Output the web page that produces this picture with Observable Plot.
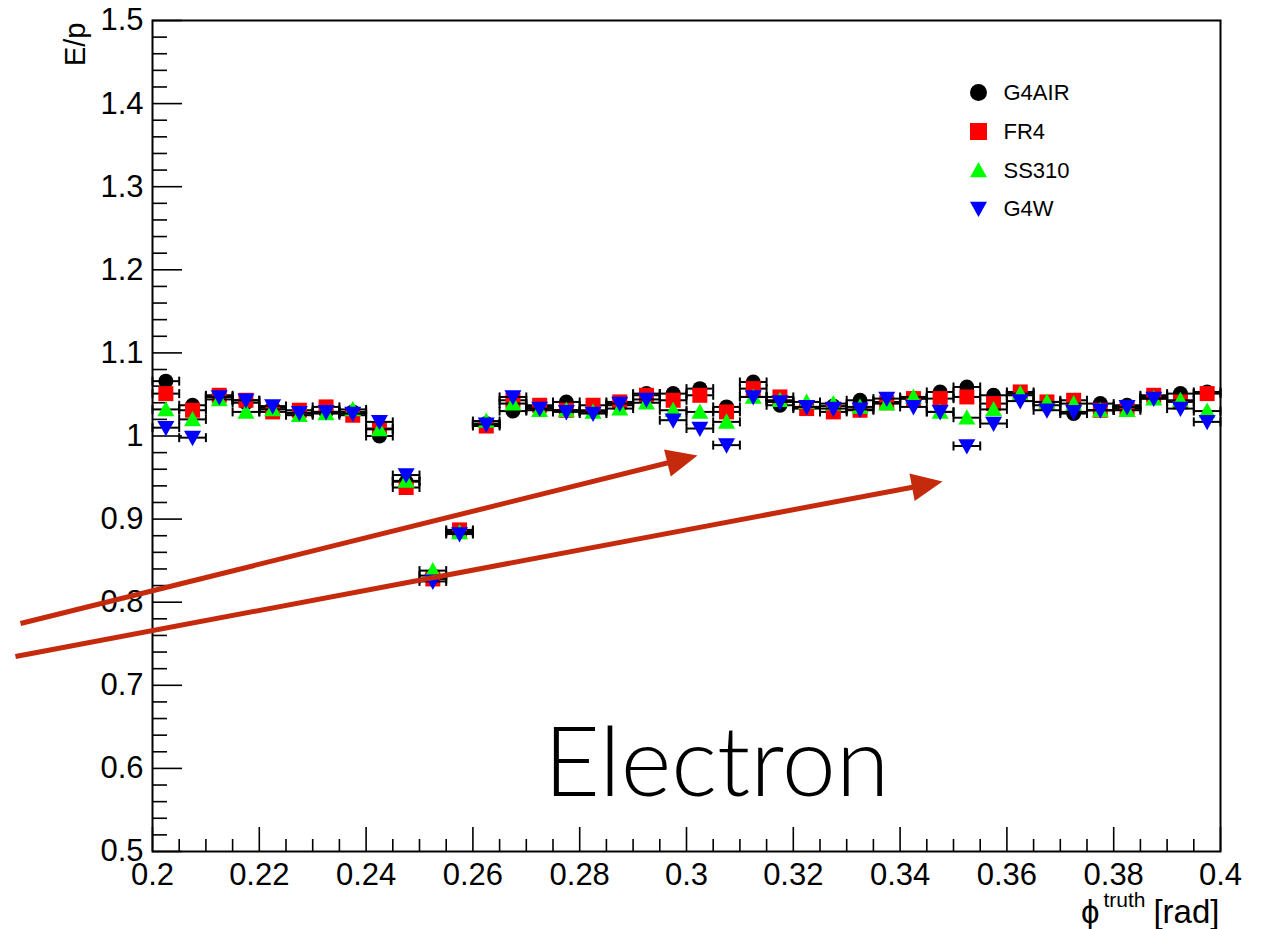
<!DOCTYPE html>
<html>
<head>
<meta charset="utf-8">
<script src="https://cdn.jsdelivr.net/npm/d3@7"></script>
<script src="https://cdn.jsdelivr.net/npm/@observablehq/plot@0.6"></script>
<style>
  html, body { margin: 0; padding: 0; background: #fff; }
</style>
</head>
<body>
<div id="chart"></div>
<script>
// ---- data ----
const phiBins = [0.2025,0.2075,0.2125,0.2175,0.2225,0.2275,0.2325,0.2375,0.2425,0.2475,
                 0.2525,0.2575,0.2625,0.2675,0.2725,0.2775,0.2825,0.2875,0.2925,0.2975,
                 0.3025,0.3075,0.3125,0.3175,0.3225,0.3275,0.3325,0.3375,0.3425,0.3475,
                 0.3525,0.3575,0.3625,0.3675,0.3725,0.3775,0.3825,0.3875,0.3925,0.3975];
const binHalfWidth = 0.0025;

const G4AIR = [1.066,1.037,1.047,1.040,1.034,1.027,1.029,1.029,1.000,0.945,
               0.832,0.885,1.015,1.030,1.035,1.041,1.031,1.037,1.051,1.051,
               1.057,1.035,1.065,1.037,1.035,1.036,1.043,1.041,1.045,1.053,
               1.059,1.049,1.049,1.037,1.027,1.039,1.037,1.047,1.051,1.053];
const FR4   = [1.051,1.031,1.049,1.043,1.029,1.031,1.035,1.025,1.009,0.938,
               0.828,0.887,1.012,1.043,1.037,1.031,1.037,1.041,1.049,1.043,
               1.049,1.029,1.057,1.047,1.033,1.029,1.031,1.040,1.045,1.045,
               1.047,1.039,1.053,1.041,1.043,1.031,1.033,1.049,1.041,1.051];
const SS310 = [1.032,1.020,1.044,1.029,1.032,1.025,1.027,1.032,1.008,0.946,
               0.838,0.884,1.018,1.039,1.031,1.031,1.029,1.033,1.040,1.031,
               1.029,1.017,1.047,1.043,1.041,1.039,1.035,1.039,1.047,1.029,
               1.022,1.032,1.051,1.041,1.039,1.031,1.031,1.045,1.043,1.030];
const G4W   = [1.010,0.998,1.047,1.043,1.036,1.028,1.029,1.027,1.017,0.953,
               0.825,0.882,1.014,1.047,1.033,1.029,1.027,1.039,1.044,1.019,
               1.009,0.989,1.047,1.041,1.035,1.033,1.032,1.045,1.035,1.029,
               0.988,1.015,1.042,1.031,1.029,1.031,1.035,1.045,1.033,1.017];

const seriesNames  = ["G4AIR", "FR4", "SS310", "G4W"];
const seriesValues = [G4AIR, FR4, SS310, G4W];
const seriesColors = ["#000000", "#ff0000", "#00ff00", "#0000ff"];
const seriesShapes = ["circle", "square", "triangleUp", "triangleDown"];

const xTicks = [0.2,0.22,0.24,0.26,0.28,0.3,0.32,0.34,0.36,0.38,0.4];
const yTicks = [0.5,0.6,0.7,0.8,0.9,1,1.1,1.2,1.3,1.4,1.5];
const xDomain = [0.2, 0.4];
const yDomain = [0.5, 1.5];

// annotation arrows (in data units: phi, E/p)
const arrowStartX = [0.17528, 0.17434];
const arrowStartY = [0.7744, 0.7347];
const arrowEndX   = [0.30206, 0.34794];
const arrowEndY   = [0.9765, 0.9452];

const xLabelMain = "ϕ";
const xLabelSup = "truth";
const xLabelUnit = "[rad]";
const yLabel = "E/p";
const bigLabel = "Electron";

// ---- layout ----
const W = 1272, H = 929;
const mL = 152, mR = 52, mT = 20, mB = 78;
const kx = (W - mL - mR) / (xDomain[1] - xDomain[0]);
const ky = (H - mT - mB) / (yDomain[1] - yDomain[0]);

function makeSymbol(shape, s) {
  return {
    draw(ctx) {
      const h = s / 2;
      if (shape === "circle") {
        ctx.moveTo(h, 0);
        ctx.arc(0, 0, h, 0, 2 * Math.PI);
      } else if (shape === "square") {
        ctx.moveTo(-h, -h); ctx.lineTo(h, -h); ctx.lineTo(h, h); ctx.lineTo(-h, h); ctx.closePath();
      } else if (shape === "triangleUp") {
        ctx.moveTo(0, -h); ctx.lineTo(h, h * 0.8); ctx.lineTo(-h, h * 0.8); ctx.closePath();
      } else {
        ctx.moveTo(0, h); ctx.lineTo(h, -h * 0.8); ctx.lineTo(-h, -h * 0.8); ctx.closePath();
      }
    }
  };
}
const markerSize = {circle: 15, square: 15, triangleUp: 17, triangleDown: 17};
const capSymbol = {draw(ctx) { ctx.moveTo(0, -4.5); ctx.lineTo(0, 4.5); }};
const headSymbol = {draw(ctx) { ctx.moveTo(0, 0); ctx.lineTo(-31, -14); ctx.lineTo(-31, 14); ctx.closePath(); }};

const fmt = d => String(+d.toFixed(3));

// minor ticks
const xMinor = d3.range(0, 41).map(i => 0.2 + i * 0.005).filter(v => !xTicks.some(t => Math.abs(t - v) < 1e-9));
const yMinor = d3.range(0, 51).map(i => 0.5 + i * 0.02).filter(v => !yTicks.some(t => Math.abs(t - v) < 1e-9));

const marks = [];

// axes tick labels
marks.push(Plot.axisX({ticks: xTicks, tickSize: 0, tickPadding: 11, tickFormat: fmt, label: null, fontSize: 31}));
marks.push(Plot.axisY({ticks: yTicks, tickSize: 0, tickPadding: 9, tickFormat: fmt, label: null, fontSize: 31}));

// tick marks (ROOT style: inside the frame)
marks.push(Plot.ruleX(xTicks, {y1: yDomain[0], y2: yDomain[0] + 24 / ky, stroke: "black", strokeWidth: 1.6}));
marks.push(Plot.ruleX(xMinor, {y1: yDomain[0], y2: yDomain[0] + 12 / ky, stroke: "black", strokeWidth: 1.6}));
marks.push(Plot.ruleY(yTicks, {x1: xDomain[0], x2: xDomain[0] + 30 / kx, stroke: "black", strokeWidth: 1.6}));
marks.push(Plot.ruleY(yMinor, {x1: xDomain[0], x2: xDomain[0] + 15 / kx, stroke: "black", strokeWidth: 1.6}));

// series
seriesNames.forEach((name, si) => {
  const rows = phiBins.map((x, i) => ({x, v: seriesValues[si][i]}));
  marks.push(Plot.ruleY(rows, {x1: d => d.x - binHalfWidth, x2: d => d.x + binHalfWidth, y: "v", stroke: "black", strokeWidth: 2}));
  marks.push(Plot.dot(rows, {x: d => d.x - binHalfWidth, y: "v", symbol: capSymbol, stroke: "black", fill: "none", strokeWidth: 2}));
  marks.push(Plot.dot(rows, {x: d => d.x + binHalfWidth, y: "v", symbol: capSymbol, stroke: "black", fill: "none", strokeWidth: 2}));
  const shape = seriesShapes[si];
  marks.push(Plot.dot(rows, {x: "x", y: "v", symbol: makeSymbol(shape, markerSize[shape]), fill: seriesColors[si], stroke: "none"}));
});

// frame
marks.push(Plot.frame({stroke: "black", strokeWidth: 2}));

// legend
const legendRowsDy = [72, 111, 150, 188];
seriesNames.forEach((name, si) => {
  const shape = seriesShapes[si];
  marks.push(Plot.dot([name], {frameAnchor: "top-right", dx: -242, dy: legendRowsDy[si], symbol: makeSymbol(shape, 17), fill: seriesColors[si], stroke: "none"}));
  marks.push(Plot.text([name], {text: d => d, frameAnchor: "top-right", dx: -217, dy: legendRowsDy[si], textAnchor: "start", lineAnchor: "middle", fontSize: 22, fill: "black"}));
});

// axis titles
marks.push(Plot.text([yLabel], {text: d => d, frameAnchor: "top-left", dx: -77, dy: 2, rotate: -90, textAnchor: "end", lineAnchor: "middle", fontSize: 29}));
marks.push(Plot.text([xLabelUnit], {text: d => d, frameAnchor: "bottom-right", dx: -1, dy: 61, textAnchor: "end", lineAnchor: "middle", fontSize: 33}));
marks.push(Plot.text([xLabelSup], {text: d => d, frameAnchor: "bottom-right", dx: -75, dy: 49, textAnchor: "end", lineAnchor: "middle", fontSize: 21}));
marks.push(Plot.text([xLabelMain], {text: d => d, frameAnchor: "bottom-right", dx: -121, dy: 61, textAnchor: "end", lineAnchor: "middle", fontSize: 33}));

// big label
marks.push(Plot.text([bigLabel], {text: d => d, frameAnchor: "bottom", dx: 30, dy: -87, textAnchor: "middle", lineAnchor: "middle", fontSize: 97, fontWeight: 300, fontFamily: "Lato, 'Liberation Sans', sans-serif", fill: "black"}));

// arrows
const arrows = arrowStartX.map((x1, i) => {
  const x2 = arrowEndX[i], y1 = arrowStartY[i], y2 = arrowEndY[i];
  const dxp = (x2 - x1) * kx, dyp = -(y2 - y1) * ky;
  const len = Math.hypot(dxp, dyp);
  const t = 1 - 25 / len;
  return {x1, y1, x2, y2, sx: x1 + (x2 - x1) * t, sy: y1 + (y2 - y1) * t, angle: Math.atan2(dyp, dxp) * 180 / Math.PI};
});
const arrowColor = "#c52a0d";
marks.push(Plot.link(arrows, {x1: "x1", y1: "y1", x2: "sx", y2: "sy", stroke: arrowColor, strokeWidth: 5}));
marks.push(Plot.dot(arrows, {x: "x2", y: "y2", rotate: "angle", symbol: headSymbol, fill: arrowColor, stroke: "none"}));

const plot = Plot.plot({
  width: W,
  height: H,
  marginLeft: mL,
  marginRight: mR,
  marginTop: mT,
  marginBottom: mB,
  x: {domain: xDomain, axis: null},
  y: {domain: yDomain, axis: null},
  style: {fontFamily: "'Liberation Sans', Arial, Helvetica, sans-serif", fontSize: "29px", background: "#fff", color: "black", overflow: "visible"},
  marks
});
document.getElementById("chart").append(plot);
</script>
</body>
</html>
